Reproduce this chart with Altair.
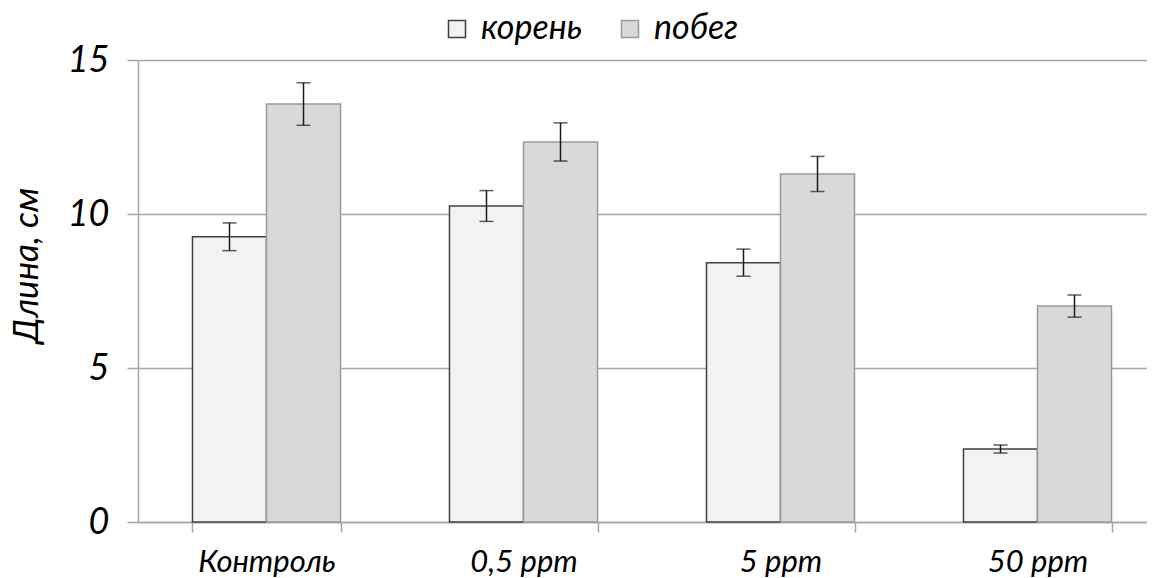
import altair as alt
import pandas as pd

categories = ["Контроль", "0,5 ppm", "5 ppm", "50 ppm"]
series = ["корень", "побег"]
root_vals = [9.26, 10.26, 8.42, 2.37]
root_err = [0.45, 0.50, 0.44, 0.13]
shoot_vals = [13.57, 12.34, 11.30, 7.01]
shoot_err = [0.69, 0.62, 0.57, 0.36]
y_ticks = [0, 5, 10, 15]

fills = ["#f2f2f2", "#d9d9d9"]
strokes = ["#404040", "#9a9a9a"]

rows = []
for i, c in enumerate(categories):
    for s, v, e in ((series[0], root_vals[i], root_err[i]), (series[1], shoot_vals[i], shoot_err[i])):
        rows.append(dict(cat=c, part=s, val=v, lo=v - e, hi=v + e))
df = pd.DataFrame(rows)

FONT = "Lato"
GRID = "#a6a6a6"

x = alt.X(
    "cat:N",
    sort=categories,
    scale=alt.Scale(range=[0, 1028], paddingInner=0.424, paddingOuter=0.212),
    axis=alt.Axis(
        title=None, labelAngle=0, labelFont=FONT, labelFontStyle="italic",
        labelFontSize=31, labelColor="#000", labelPadding=15, tickSize=10,
        tickColor=GRID, tickWidth=1.5, domainColor=GRID, domainWidth=1.5,
        tickBand="extent", grid=False,
    ),
)
xoff = alt.XOffset("part:N", sort=series, scale=alt.Scale(paddingInner=0, paddingOuter=0))

y = alt.Y(
    "val:Q",
    scale=alt.Scale(domain=[0, 15], nice=False, zero=True),
    axis=alt.Axis(
        values=y_ticks, grid=True, gridColor=GRID, gridWidth=1.5,
        tickSize=11, tickColor=GRID, tickWidth=1.5, domainColor=GRID, domainWidth=1.5,
        labelFont=FONT, labelFontStyle="italic", labelFontSize=36, labelColor="#000",
        labelPadding=18,
        title="Длина, см", titleFont=FONT, titleFontStyle="italic", titleFontWeight="normal",
        titleFontSize=35, titleColor="#000", titleX=-112, titleY=205, titleAngle=-90,
        titleAlign="center", titleBaseline="middle",
    ),
)

legend = alt.Legend(
    title=None, orient="none", legendX=302, legendY=-48, direction="horizontal",
    symbolType="square", symbolSize=289, symbolStrokeWidth=1.5,
    labelFont=FONT, labelFontStyle="italic", labelFontSize=34, labelColor="#000",
    labelOffset=7, columnPadding=30, padding=0,
)

bars = alt.Chart(df).mark_bar(strokeWidth=1.5).encode(
    x=x,
    xOffset=xoff,
    y=y,
    color=alt.Color("part:N", sort=series, scale=alt.Scale(domain=series, range=fills), legend=legend),
    stroke=alt.Stroke("part:N", sort=series, scale=alt.Scale(domain=series, range=strokes), legend=legend),
)

rules = alt.Chart(df).mark_rule(color="#1a1a1a", strokeWidth=1.5).encode(
    x=alt.X("cat:N", sort=categories),
    xOffset=alt.XOffset("part:N", sort=series),
    y=alt.Y("lo:Q"),
    y2="hi:Q",
)
caps_hi = alt.Chart(df).mark_tick(color="#1a1a1a", size=14, thickness=1.5).encode(
    x=alt.X("cat:N", sort=categories),
    xOffset=alt.XOffset("part:N", sort=series),
    y=alt.Y("hi:Q"),
)
caps_lo = alt.Chart(df).mark_tick(color="#1a1a1a", size=14, thickness=1.5).encode(
    x=alt.X("cat:N", sort=categories),
    xOffset=alt.XOffset("part:N", sort=series),
    y=alt.Y("lo:Q"),
)

chart = alt.layer(bars, rules, caps_hi, caps_lo).properties(
    width=1009, height=462,
    padding={"left": 130, "top": 52, "right": 0, "bottom": 56},
    autosize="none",
).configure_view(stroke=None).configure(background="white")

chart.save("out.html", embed_options={"renderer": "svg", "actions": False})
